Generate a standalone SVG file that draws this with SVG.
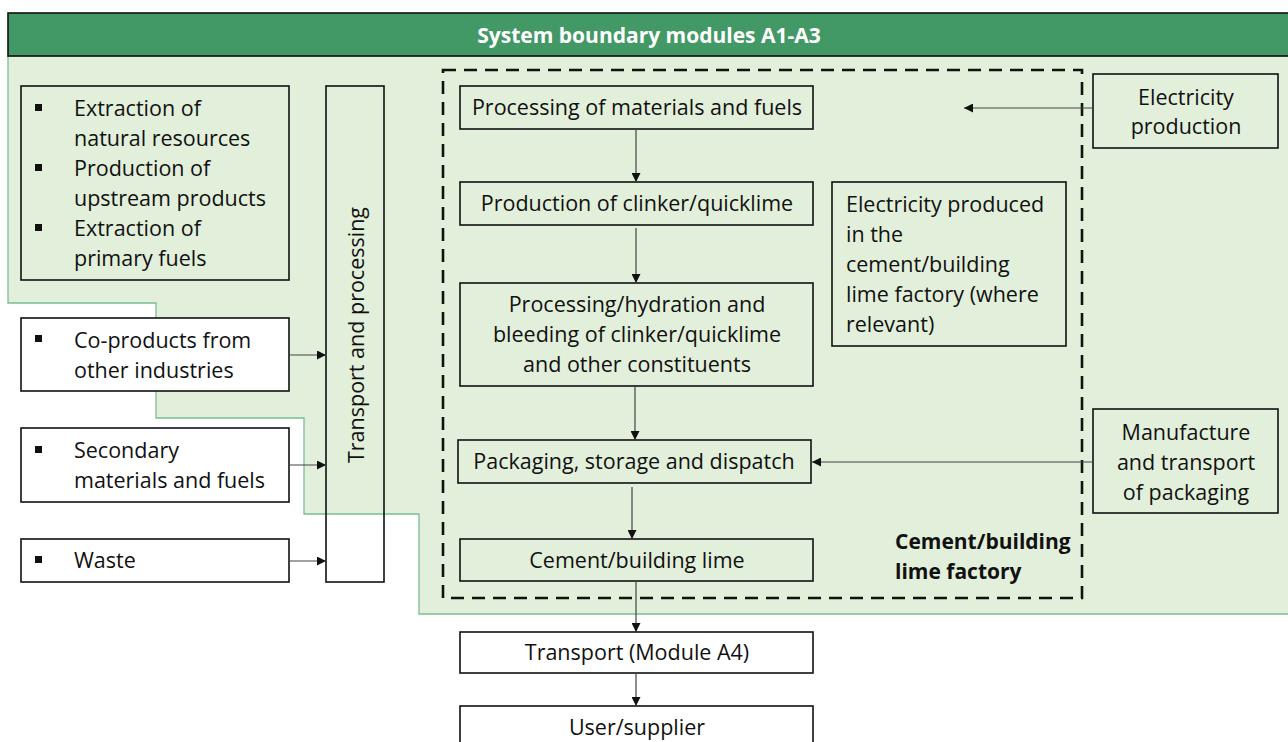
<svg xmlns="http://www.w3.org/2000/svg" width="1288" height="742" viewBox="0 0 1288 742">
<style>
text{font-family:"Open Sans","Noto Sans","Liberation Sans",sans-serif;font-size:21.5px;fill:#111;}
.box{fill:#e2efda;stroke:#111;stroke-width:1.6;}
.wbox{fill:#fff;stroke:#111;stroke-width:1.6;}
.c{text-anchor:middle;}
.conn{stroke:#444;stroke-width:1.2;fill:none;marker-end:url(#ah);}
.bold{font-weight:bold;font-size:21px;}
.bul{fill:#111;}
</style>
<defs>
<marker id="ah" viewBox="0 0 10 10" refX="10" refY="5" markerWidth="9" markerHeight="9" markerUnits="userSpaceOnUse" orient="auto">
<path d="M0,0 L10,5 L0,10 z" fill="#111"/>
</marker>
</defs>
<rect x="0" y="0" width="1288" height="742" fill="#fff"/>
<g id="boundary">
<polygon points="8,56 1290,56 1290,614 419,614 419,514 304,514 304,418 156,418 156,303 8,303" fill="#e2efda" stroke="#79bf92" stroke-width="1.3"/>
<rect x="8" y="13" width="1284" height="43" fill="#439966" stroke="#111" stroke-width="1.6"/>
<text x="649" y="43" class="c bold" style="fill:#fff;">System boundary modules A1-A3</text>
</g>
<g id="factory">
<rect x="443" y="70" width="639" height="528" fill="none" stroke="#111" stroke-width="2.6" stroke-dasharray="13,8"/>
<text x="895" y="549" class="bold">Cement/building</text>
<text x="895" y="579" class="bold">lime factory</text>
</g>
<g id="upstream">
<rect class="box" x="21" y="86" width="268" height="194"/>
<rect class="bul" x="35" y="104" width="7" height="7"/>
<rect class="bul" x="35" y="164" width="7" height="7"/>
<rect class="bul" x="35" y="224" width="7" height="7"/>
<text x="74" y="116">Extraction of</text>
<text x="74" y="146">natural resources</text>
<text x="74" y="176">Production of</text>
<text x="74" y="206">upstream products</text>
<text x="74" y="236">Extraction of</text>
<text x="74" y="266">primary fuels</text>
</g>
<g id="coproducts">
<rect class="wbox" x="21" y="318" width="268" height="73"/>
<rect class="bul" x="35" y="335" width="7" height="7"/>
<text x="74" y="348">Co-products from</text>
<text x="74" y="378">other industries</text>
</g>
<g id="secondary">
<rect class="wbox" x="21" y="428" width="268" height="74"/>
<rect class="bul" x="35" y="446" width="7" height="7"/>
<text x="74" y="458">Secondary</text>
<text x="74" y="488">materials and fuels</text>
</g>
<g id="waste">
<rect class="wbox" x="21" y="539" width="268" height="43"/>
<rect class="bul" x="35" y="556" width="7" height="7"/>
<text x="74" y="568">Waste</text>
</g>
<g id="transport-processing">
<rect x="326" y="86" width="58" height="496" fill="none" stroke="#111" stroke-width="1.6"/>
<text class="c" transform="translate(364,335) rotate(-90)">Transport and processing</text>
</g>
<g id="processing">
<rect class="box" x="460" y="86" width="353" height="43"/>
<text x="637" y="115" class="c">Processing of materials and fuels</text>
</g>
<g id="clinker">
<rect class="box" x="460" y="182" width="353" height="43"/>
<text x="637" y="211" class="c">Production of clinker/quicklime</text>
</g>
<g id="hydration">
<rect class="box" x="460" y="283" width="353" height="103"/>
<text x="637" y="312" class="c">Processing/hydration and</text>
<text x="637" y="342" class="c">bleeding of clinker/quicklime</text>
<text x="637" y="372" class="c">and other constituents</text>
</g>
<g id="packaging">
<rect class="box" x="458" y="440" width="353" height="43"/>
<text x="634" y="469" class="c">Packaging, storage and dispatch</text>
</g>
<g id="cement">
<rect class="box" x="460" y="539" width="353" height="42"/>
<text x="637" y="568" class="c">Cement/building lime</text>
</g>
<g id="transport-a4">
<rect class="wbox" x="460" y="632" width="353" height="41"/>
<text x="637" y="660" class="c">Transport (Module A4)</text>
</g>
<g id="user">
<rect class="wbox" x="460" y="706" width="353" height="40"/>
<text x="637" y="735" class="c">User/supplier</text>
</g>
<g id="electricity-produced">
<rect class="box" x="832" y="182" width="234" height="164"/>
<text x="846" y="212">Electricity produced</text>
<text x="846" y="242">in the</text>
<text x="846" y="272">cement/building</text>
<text x="846" y="302">lime factory (where</text>
<text x="846" y="332">relevant)</text>
</g>
<g id="electricity-production">
<rect class="box" x="1093" y="74" width="185" height="74"/>
<text x="1186" y="105" class="c">Electricity</text>
<text x="1186" y="134" class="c">production</text>
</g>
<g id="packaging-manufacture">
<rect class="box" x="1093" y="409" width="185" height="104"/>
<text x="1186" y="440" class="c">Manufacture</text>
<text x="1186" y="470" class="c">and transport</text>
<text x="1186" y="500" class="c">of packaging</text>
</g>
<g id="connectors">
<line class="conn" x1="289" y1="355" x2="326" y2="355"/>
<line class="conn" x1="290" y1="465" x2="326" y2="465"/>
<line class="conn" x1="290" y1="561" x2="326" y2="561"/>
<line class="conn" x1="636" y1="129" x2="636" y2="182"/>
<line class="conn" x1="636" y1="228" x2="636" y2="283"/>
<line class="conn" x1="635" y1="386" x2="635" y2="440"/>
<line class="conn" x1="632" y1="487" x2="632" y2="539"/>
<line class="conn" x1="636" y1="581" x2="636" y2="632"/>
<line class="conn" x1="636" y1="673" x2="636" y2="706"/>
<line class="conn" x1="1093" y1="108" x2="964" y2="108"/>
<line class="conn" x1="1093" y1="462" x2="812" y2="462"/>
</g>
</svg>
